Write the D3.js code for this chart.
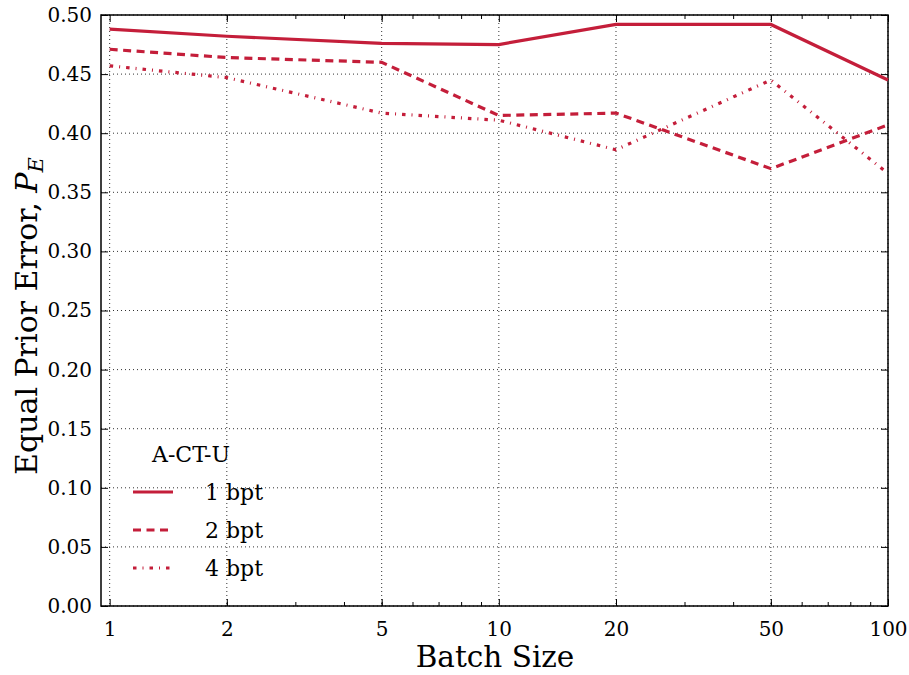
<!DOCTYPE html>
<html>
<head>
<meta charset="utf-8">
<script src="https://cdn.jsdelivr.net/npm/d3@7"></script>
<style>
  body { margin: 0; background: #fff; }
  svg text { font-family: "DejaVu Serif", serif; fill: #000; }
</style>
</head>
<body>
<svg id="chart" width="909" height="675"></svg>
<script>
// Data
const batchSizes = [1, 2, 5, 10, 20, 50, 100];
const bpt1 = [0.488, 0.482, 0.476, 0.475, 0.492, 0.492, 0.445];
const bpt2 = [0.471, 0.464, 0.460, 0.415, 0.417, 0.370, 0.407];
const bpt4 = [0.457, 0.447, 0.417, 0.411, 0.386, 0.445, 0.366];
const seriesNames = ["1 bpt", "2 bpt", "4 bpt"];
const xTicks = [1, 2, 5, 10, 20, 50, 100];
const yTicks = [0, 0.05, 0.1, 0.15, 0.2, 0.25, 0.3, 0.35, 0.4, 0.45, 0.5];

const color = "#c41e3a";
const dashes = [null, "8,5.5", "3.5,6,1,6"];
const serif = "DejaVu Serif";

const margin = {top: 15, right: 21, bottom: 69, left: 101};
const width = 909 - margin.left - margin.right,
      height = 675 - margin.top - margin.bottom;

const svg = d3.select("#chart");
const g = svg.append("g").attr("transform", `translate(${margin.left},${margin.top})`);

const x = d3.scaleLog().domain([0.95, 100]).range([0, width]);
const y = d3.scaleLinear().domain([0, 0.5]).range([height, 0]);

// minor log ticks
const minor = [];
[1, 10].forEach(dec => { for (let k = 2; k <= 9; k++) minor.push(k * dec); });

// grid
g.append("g").selectAll("line")
    .data(xTicks)
  .enter().append("line")
    .attr("x1", d => x(d)).attr("x2", d => x(d))
    .attr("y1", 0).attr("y2", height)
    .attr("stroke", "#000").attr("stroke-width", 1)
    .attr("stroke-dasharray", "1,3").attr("opacity", 0.8);
g.append("g").selectAll("line")
    .data(yTicks)
  .enter().append("line")
    .attr("x1", 0).attr("x2", width)
    .attr("y1", d => y(d)).attr("y2", d => y(d))
    .attr("stroke", "#000").attr("stroke-width", 1)
    .attr("stroke-dasharray", "1,3").attr("opacity", 0.8);

// axes with inward ticks
const fmtY = d3.format(".2f");
g.append("g").attr("transform", `translate(0,${height})`)
    .call(d3.axisBottom(x).tickValues(xTicks).tickFormat(d3.format("d")).tickSizeInner(-7).tickSizeOuter(0).tickPadding(16))
    .call(a => a.select(".domain").remove())
    .call(a => a.selectAll("text").attr("font-size", 20).attr("font-family", serif));
g.append("g").attr("transform", `translate(0,${height})`)
    .call(d3.axisBottom(x).tickValues(minor).tickFormat("").tickSizeInner(-4).tickSizeOuter(0))
    .call(a => a.select(".domain").remove());
g.append("g")
    .call(d3.axisTop(x).tickValues(xTicks).tickFormat("").tickSizeInner(-7).tickSizeOuter(0))
    .call(a => a.select(".domain").remove());
g.append("g")
    .call(d3.axisTop(x).tickValues(minor).tickFormat("").tickSizeInner(-4).tickSizeOuter(0))
    .call(a => a.select(".domain").remove());
g.append("g")
    .call(d3.axisLeft(y).tickValues(yTicks).tickFormat(fmtY).tickSizeInner(-7).tickSizeOuter(0).tickPadding(9))
    .call(a => a.select(".domain").remove())
    .call(a => a.selectAll("text").attr("font-size", 20).attr("font-family", serif));
g.append("g").attr("transform", `translate(${width},0)`)
    .call(d3.axisRight(y).tickValues(yTicks).tickFormat("").tickSizeInner(-7).tickSizeOuter(0))
    .call(a => a.select(".domain").remove());

g.selectAll(".tick line").attr("stroke", "#000").attr("stroke-width", 1);

// frame
g.append("rect").attr("width", width).attr("height", height)
    .attr("fill", "none").attr("stroke", "#000").attr("stroke-width", 1.5);

// lines
const line = d3.line().x((d, i) => x(batchSizes[i])).y(d => y(d));
[bpt1, bpt2, bpt4].forEach((s, i) => {
  g.append("path").datum(s)
    .attr("d", line)
    .attr("fill", "none")
    .attr("stroke", color)
    .attr("stroke-width", 3.2)
    .attr("stroke-dasharray", dashes[i]);
});

// legend
const leg = g.append("g");
leg.append("text").attr("x", 90).attr("y", 447).attr("text-anchor", "middle")
    .attr("font-family", serif).attr("font-size", 22).text("A-CT-U");
seriesNames.forEach((name, i) => {
  const yy = 477 + i * 38;
  leg.append("line").attr("x1", 32).attr("x2", 72).attr("y1", yy).attr("y2", yy)
    .attr("stroke", color).attr("stroke-width", 3.2)
    .attr("stroke-dasharray", dashes[i]);
  leg.append("text").attr("x", 104).attr("y", yy + 8)
    .attr("font-family", serif).attr("font-size", 22).text(name);
});

// axis labels
svg.append("text")
    .attr("x", 495).attr("y", 667)
    .attr("text-anchor", "middle").attr("font-family", serif).attr("font-size", 29.5)
    .text("Batch Size");
const yl = svg.append("text")
    .attr("transform", `translate(37,316) rotate(-90)`)
    .attr("text-anchor", "middle").attr("font-family", serif).attr("font-size", 30);
yl.append("tspan").text("Equal Prior Error, ");
yl.append("tspan").attr("font-style", "italic").text("P");
yl.append("tspan").attr("font-style", "italic").attr("font-size", 21).attr("dy", 6).text("E");
</script>
</body>
</html>
